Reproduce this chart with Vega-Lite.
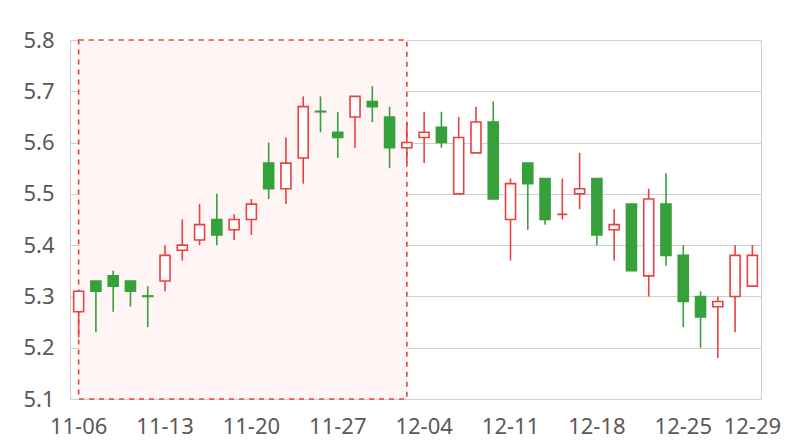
{
  "$schema": "https://vega.github.io/schema/vega-lite/v6.json",
  "width": 691,
  "height": 359,
  "autosize": {"type": "none"},
  "padding": {"left": 70, "top": 40, "right": 39, "bottom": 41},
  "background": "white",
  "config": {
    "view": {"stroke": "#cccccc", "strokeWidth": 1},
    "font": "Noto Sans"
  },
  "datasets": {
    "k": [
      {"date": "11-06", "open": 5.27, "close": 5.31, "high": 5.31, "low": 5.22},
      {"date": "11-07", "open": 5.33, "close": 5.31, "high": 5.33, "low": 5.23},
      {"date": "11-08", "open": 5.34, "close": 5.32, "high": 5.35, "low": 5.27},
      {"date": "11-09", "open": 5.33, "close": 5.31, "high": 5.33, "low": 5.28},
      {"date": "11-10", "open": 5.301, "close": 5.30, "high": 5.32, "low": 5.24},
      {"date": "11-13", "open": 5.33, "close": 5.38, "high": 5.40, "low": 5.31},
      {"date": "11-14", "open": 5.39, "close": 5.40, "high": 5.45, "low": 5.37},
      {"date": "11-15", "open": 5.41, "close": 5.44, "high": 5.48, "low": 5.40},
      {"date": "11-16", "open": 5.45, "close": 5.42, "high": 5.50, "low": 5.40},
      {"date": "11-17", "open": 5.43, "close": 5.45, "high": 5.46, "low": 5.41},
      {"date": "11-20", "open": 5.45, "close": 5.48, "high": 5.49, "low": 5.42},
      {"date": "11-21", "open": 5.56, "close": 5.51, "high": 5.60, "low": 5.49},
      {"date": "11-22", "open": 5.51, "close": 5.56, "high": 5.61, "low": 5.48},
      {"date": "11-23", "open": 5.57, "close": 5.67, "high": 5.69, "low": 5.52},
      {"date": "11-24", "open": 5.661, "close": 5.66, "high": 5.69, "low": 5.62},
      {"date": "11-27", "open": 5.62, "close": 5.61, "high": 5.66, "low": 5.57},
      {"date": "11-28", "open": 5.65, "close": 5.69, "high": 5.69, "low": 5.59},
      {"date": "11-29", "open": 5.68, "close": 5.67, "high": 5.71, "low": 5.64},
      {"date": "11-30", "open": 5.65, "close": 5.59, "high": 5.67, "low": 5.55},
      {"date": "12-01", "open": 5.59, "close": 5.60, "high": 5.64, "low": 5.56},
      {"date": "12-04", "open": 5.61, "close": 5.62, "high": 5.66, "low": 5.56},
      {"date": "12-05", "open": 5.63, "close": 5.60, "high": 5.66, "low": 5.59},
      {"date": "12-06", "open": 5.50, "close": 5.61, "high": 5.65, "low": 5.50},
      {"date": "12-07", "open": 5.58, "close": 5.64, "high": 5.67, "low": 5.58},
      {"date": "12-08", "open": 5.64, "close": 5.49, "high": 5.68, "low": 5.49},
      {"date": "12-11", "open": 5.45, "close": 5.52, "high": 5.53, "low": 5.37},
      {"date": "12-12", "open": 5.56, "close": 5.52, "high": 5.56, "low": 5.43},
      {"date": "12-13", "open": 5.53, "close": 5.45, "high": 5.53, "low": 5.44},
      {"date": "12-14", "open": 5.46, "close": 5.46, "high": 5.53, "low": 5.45},
      {"date": "12-15", "open": 5.50, "close": 5.51, "high": 5.58, "low": 5.47},
      {"date": "12-18", "open": 5.53, "close": 5.42, "high": 5.53, "low": 5.40},
      {"date": "12-19", "open": 5.43, "close": 5.44, "high": 5.47, "low": 5.37},
      {"date": "12-20", "open": 5.48, "close": 5.35, "high": 5.48, "low": 5.35},
      {"date": "12-21", "open": 5.34, "close": 5.49, "high": 5.51, "low": 5.30},
      {"date": "12-22", "open": 5.48, "close": 5.38, "high": 5.54, "low": 5.36},
      {"date": "12-25", "open": 5.38, "close": 5.29, "high": 5.40, "low": 5.24},
      {"date": "12-26", "open": 5.30, "close": 5.26, "high": 5.31, "low": 5.20},
      {"date": "12-27", "open": 5.28, "close": 5.29, "high": 5.30, "low": 5.18},
      {"date": "12-28", "open": 5.30, "close": 5.38, "high": 5.40, "low": 5.23},
      {"date": "12-29", "open": 5.32, "close": 5.38, "high": 5.40, "low": 5.32}
    ],
    "zone": [
      {"start": "11-06", "end": "12-01", "bottom": 5.1, "top": 5.8}
    ]
  },
  "resolve": {"scale": {"x": "shared", "y": "shared"}},
  "encoding": {
    "x": {
      "field": "date",
      "type": "ordinal",
      "sort": null,
      "scale": {
        "domain": ["11-06","11-07","11-08","11-09","11-10","11-13","11-14","11-15","11-16","11-17","11-20","11-21","11-22","11-23","11-24","11-27","11-28","11-29","11-30","12-01","12-04","12-05","12-06","12-07","12-08","12-11","12-12","12-13","12-14","12-15","12-18","12-19","12-20","12-21","12-22","12-25","12-26","12-27","12-28","12-29"],
        "paddingInner": 0,
        "paddingOuter": 0
      },
      "axis": {
        "title": null,
        "labelAngle": 0,
        "values": ["11-06","11-13","11-20","11-27","12-04","12-11","12-18","12-25","12-29"],
        "ticks": false,
        "domain": false,
        "grid": false,
        "labelFontSize": 22,
        "labelColor": "#595959",
        "labelPadding": 17,
        "labelOverlap": false,
        "labelFlush": false
      }
    }
  },
  "layer": [
    {
      "data": {"name": "zone"},
      "mark": {"type": "rect", "fill": "#fff5f5", "stroke": "#e8413e", "strokeWidth": 1.6, "strokeDash": [5, 5]},
      "encoding": {
        "x": {"field": "start", "type": "ordinal", "bandPosition": 0.5},
        "x2": {"field": "end", "bandPosition": 0.5},
        "y": {"field": "bottom", "type": "quantitative"},
        "y2": {"field": "top"}
      }
    },
    {
      "data": {"name": "k"},
      "mark": {"type": "rule", "strokeWidth": 1.6},
      "encoding": {
        "y": {
          "field": "low",
          "type": "quantitative",
          "scale": {"domain": [5.1, 5.8], "nice": false, "zero": false},
          "axis": {
            "title": null,
            "values": [5.1, 5.2, 5.3, 5.4, 5.5, 5.6, 5.7, 5.8],
            "format": ".1f",
            "ticks": false,
            "domain": false,
            "gridColor": "#d0d0d0",
            "labelFontSize": 22,
            "labelColor": "#595959",
            "labelPadding": 16
          }
        },
        "y2": {"field": "high"},
        "color": {
          "condition": {"test": "datum.open <= datum.close", "value": "#e8413e"},
          "value": "#36a03a"
        }
      }
    },
    {
      "data": {"name": "k"},
      "mark": {"type": "bar", "size": 10, "strokeWidth": 1.6},
      "encoding": {
        "y": {"field": "open", "type": "quantitative"},
        "y2": {"field": "close"},
        "fill": {
          "condition": {"test": "datum.open <= datum.close", "value": "#ffffff"},
          "value": "#36a03a"
        },
        "stroke": {
          "condition": {"test": "datum.open <= datum.close", "value": "#e8413e"},
          "value": "#36a03a"
        }
      }
    }
  ]
}
